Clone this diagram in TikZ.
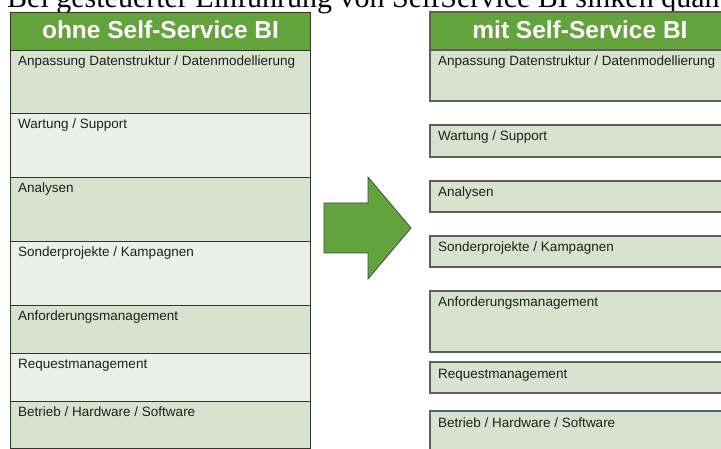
\documentclass[tikz,border=0pt]{standalone}
\usepackage{fontspec}
\setmainfont{Liberation Sans}
\newfontfamily\titlefont{Liberation Serif}
\definecolor{hdrgreen}{HTML}{62A33C}
\definecolor{rowdark}{HTML}{D7E3CF}
\definecolor{rowlight}{HTML}{EAF1E7}
\definecolor{lineleft}{HTML}{333333}
\definecolor{lineright}{HTML}{5E5E5E}
\definecolor{txt}{HTML}{1E1E1E}
\tikzset{
  hdr/.style={fill=hdrgreen, draw=lineleft, line width=0.9pt},
  hdrtext/.style={anchor=base, inner sep=0pt, text=white, font=\fontsize{24.5}{27}\selectfont\bfseries},
  dark/.style={fill=rowdark, draw=lineleft, line width=0.9pt},
  light/.style={fill=rowlight, draw=lineleft, line width=0.9pt},
  rbox/.style={fill=rowdark, draw=lineright, line width=1.3pt},
  lbl/.style={anchor=base west, inner sep=0pt, text=txt, font=\fontsize{13.5}{15}\selectfont},
  bigarrow/.style={fill=hdrgreen, draw=black!75, line width=0.7pt, line join=miter},
}
\begin{document}
\begin{tikzpicture}[x=1pt, y=-1pt]
\useasboundingbox (0,0) rectangle (721,449);
\clip (0,0) rectangle (721,449);
\fill[white] (0,0) rectangle (721,449);

% heading line, partly outside the frame
\node[anchor=base west, inner sep=0pt, font=\titlefont\fontsize{30}{33}\selectfont] (title) at (7,7.5)
  {Bei gesteuerter Einführung von SelfService BI sinken quantitative Aufwände};

% ---- left column: without self-service BI ----
\path[hdr] (10,12) rectangle (310,50);
\node[hdrtext] (lh) at (160.5,39) {ohne Self-Service BI};
\path[dark]  (10,50)  rectangle (310,113);
\path[light] (10,113) rectangle (310,177);
\path[dark]  (10,177) rectangle (310,241);
\path[light] (10,241) rectangle (310,305);
\path[dark]  (10,305) rectangle (310,353);
\path[light] (10,353) rectangle (310,401);
\path[dark]  (10,401) rectangle (310,448);
\node[lbl] (l1) at (18,66)  {Anpassung Datenstruktur / Datenmodellierung};
\node[lbl] (l2) at (18,129) {Wartung / Support};
\node[lbl] (l3) at (18,193) {Analysen};
\node[lbl] (l4) at (18,257) {Sonderprojekte / Kampagnen};
\node[lbl] (l5) at (18,321) {Anforderungsmanagement};
\node[lbl] (l6) at (18,369) {Requestmanagement};
\node[lbl] (l7) at (18,417) {Betrieb / Hardware / Software};

% ---- transition arrow ----
\path[bigarrow] (324,203) -- (368,203) -- (368,177) -- (411,228)
  -- (368,279) -- (368,253) -- (324,253) -- cycle;

% ---- right column: with self-service BI ----
\path[hdr, draw=lineright, line width=1.3pt] (430,12) rectangle (730,50);
\node[hdrtext] (rh) at (580,39) {mit Self-Service BI};
\path[rbox] (430,50)  rectangle (730,101);
\path[rbox] (430,125) rectangle (730,157);
\path[rbox] (430,181) rectangle (730,212);
\path[rbox] (430,236) rectangle (730,267);
\path[rbox] (430,291) rectangle (730,352);
\path[rbox] (430,362) rectangle (730,393);
\path[rbox] (430,411) rectangle (730,460);
\node[lbl] (r1) at (438,66)  {Anpassung Datenstruktur / Datenmodellierung};
\node[lbl] (r2) at (438,141) {Wartung / Support};
\node[lbl] (r3) at (438,197) {Analysen};
\node[lbl] (r4) at (438,252) {Sonderprojekte / Kampagnen};
\node[lbl] (r5) at (438,307) {Anforderungsmanagement};
\node[lbl] (r6) at (438,378) {Requestmanagement};
\node[lbl] (r7) at (438,427) {Betrieb / Hardware / Software};
\end{tikzpicture}
\end{document}
